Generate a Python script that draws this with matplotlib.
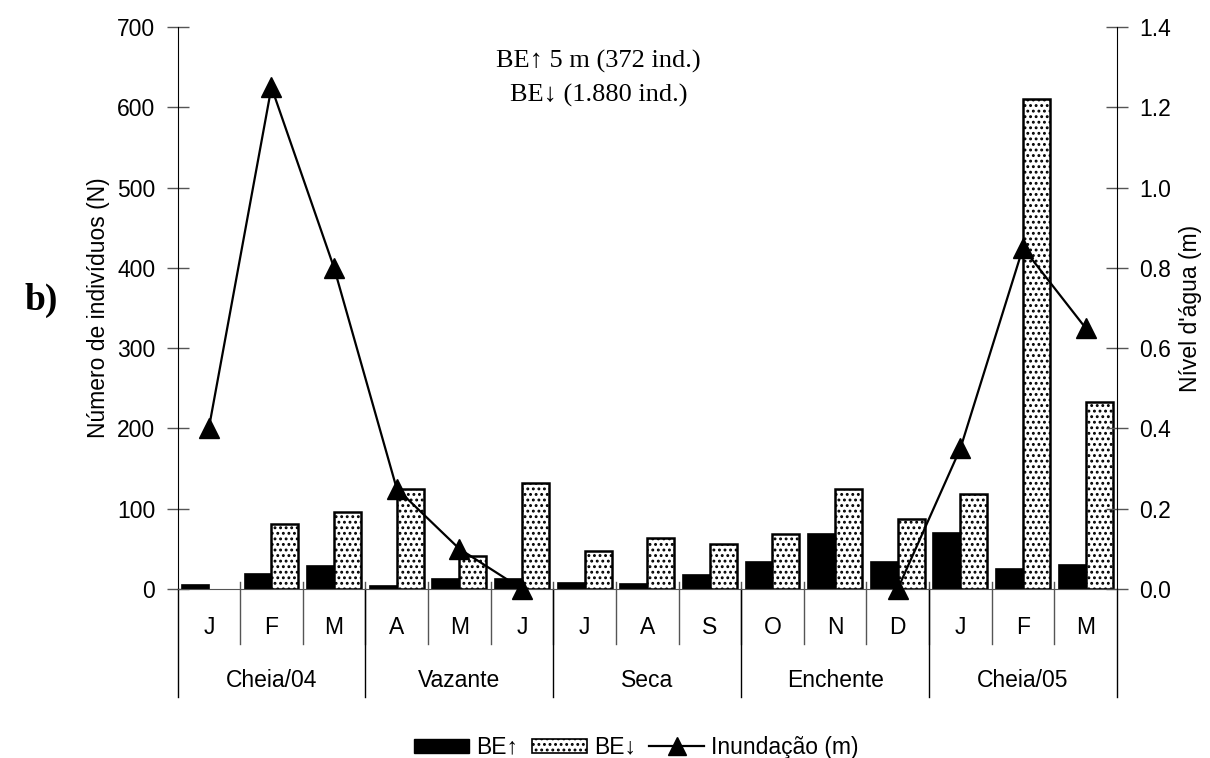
import matplotlib
matplotlib.use("Agg")
import matplotlib.pyplot as plt
import numpy as np
from matplotlib.patches import Patch
from matplotlib.lines import Line2D
import matplotlib.transforms as mtransforms

plt.rcParams['font.family'] = ['Liberation Sans', 'DejaVu Sans']
plt.rcParams['hatch.linewidth'] = 1.3

# Months and seasons
months = ["J", "F", "M", "A", "M", "J", "J", "A", "S", "O", "N", "D", "J", "F", "M"]
seasons = ["Cheia/04", "Vazante", "Seca", "Enchente", "Cheia/05"]
season_len = [3, 3, 3, 3, 3]

# Number of individuals per month
be_up = [5, 19, 29, 4, 12, 12, 7, 6, 17, 34, 68, 34, 70, 25, 30]
be_down = [0, 81, 96, 124, 41, 132, 47, 63, 56, 69, 124, 87, 118, 610, 233]

# Water level (m); no record from July to November
flood = [0.40, 1.25, 0.80, 0.25, 0.10, 0.00,
         np.nan, np.nan, np.nan, np.nan, np.nan,
         0.00, 0.35, 0.85, 0.65]

FS = 16.5
DOTS = "..."

fig = plt.figure(figsize=(12.1, 7.58), dpi=100)
ax = fig.add_axes([0.1467, 0.2230, 0.7764, 0.7414])
ax2 = ax.twinx()

x = np.arange(len(months))
w = 0.43
ax.bar(x - w / 2, be_up, width=w, color="black", edgecolor="black", linewidth=1.2, zorder=2)
down_lw = [1.8 if v > 0 else 0 for v in be_down]
ax.bar(x + w / 2, be_down, width=w, color="white", edgecolor="black", linewidth=down_lw,
       hatch=DOTS, zorder=2)

ax.set_xlim(-0.5, len(months) - 0.5)
ax.set_ylim(0, 700)
ax.set_yticks(range(0, 701, 100))
ax.set_xticks([])
ax2.set_ylim(0, 1.4)
ax2.set_yticks(np.arange(0, 1.41, 0.2))
ax2.set_yticklabels([f"{v:.1f}" for v in np.arange(0, 1.41, 0.2)])

ax2.plot(x, flood, color="black", linewidth=1.6, marker="^", markersize=15,
         clip_on=False, zorder=5)

for a in (ax, ax2):
    a.spines["top"].set_visible(False)
    a.tick_params(axis="y", direction="inout", length=16, width=1, labelsize=FS, pad=8,
                  colors="#555555", labelcolor="black")
ax.spines["right"].set_visible(False)
ax2.spines["left"].set_visible(False)
ax.spines["bottom"].set_color("#555555")
ax2.spines["bottom"].set_visible(False)

ax.set_ylabel("Número de indivíduos (N)", fontsize=FS, labelpad=5)
ax2.set_ylabel("Nível d'água (m)", fontsize=FS, labelpad=6)

# Category axis below the plot: months and season groups
trans = mtransforms.blended_transform_factory(ax.transData, ax.transAxes)
y_month_line = -0.098
y_season_line = -0.192
for i in range(len(months) - 1):
    ax.plot([i + 0.5, i + 0.5], [0.012, y_month_line], transform=trans,
            color="#555555", linewidth=1, clip_on=False)
for i, m in enumerate(months):
    ax.text(i, -0.068, m, transform=trans, ha="center", va="center", fontsize=FS)

bounds = np.concatenate([[0], np.cumsum(season_len)]) - 0.5
for b in bounds:
    ax.plot([b, b], [0, y_season_line], transform=trans, color="black",
            linewidth=1, clip_on=False)
for s, lo, hi in zip(seasons, bounds[:-1], bounds[1:]):
    ax.text((lo + hi) / 2, -0.162, s, transform=trans, ha="center", va="center", fontsize=FS)

# Totals
ax.text(0.448, 0.908, "BE↑ 5 m (372 ind.)\nBE↓ (1.880 ind.)", transform=ax.transAxes,
        ha="center", va="center", fontsize=19, linespacing=1.6,
        family=["Liberation Serif", "DejaVu Serif"])

fig.text(0.034, 0.603, "b)", fontsize=27, fontweight="bold",
         family=["Liberation Serif", "DejaVu Serif"], ha="center", va="center")

handles = [Patch(facecolor="black", edgecolor="black"),
           Patch(facecolor="white", edgecolor="black", hatch=DOTS, linewidth=1.2),
           Line2D([], [], color="black", marker="^", markersize=13, linewidth=1.6)]
fig.legend(handles, ["BE↑", "BE↓", "Inundação (m)"], loc="center",
           bbox_to_anchor=(0.526, 0.014), ncol=3, frameon=False, fontsize=FS,
           handlelength=2.4, handleheight=0.6, handletextpad=0.3, columnspacing=0.6)

fig.savefig("out.png", dpi=100)
